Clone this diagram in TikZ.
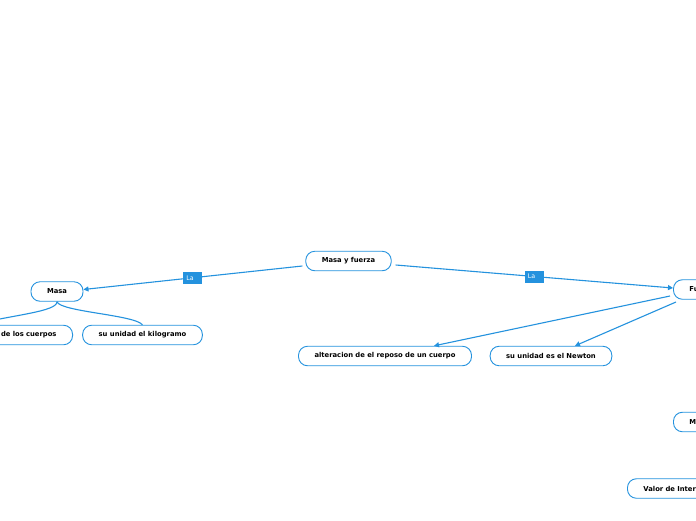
\documentclass[tikz,border=0pt]{standalone}
\usepackage{fontspec}
\setmainfont{DejaVu Sans}
\usetikzlibrary{arrows.meta}
\definecolor{mblue}{RGB}{36,146,222}
\tikzset{
  topic/.style={draw=mblue, line width=0.9pt, fill=white, rounded corners=9pt,
    minimum height=19.5pt, inner xsep=16pt, inner ysep=0pt, font=\fontsize{6.8}{8}\selectfont\bfseries, text=black},
  conn/.style={draw=mblue, line width=1.1pt, -{Triangle[length=5pt,width=5pt]}},
  plain/.style={draw=mblue, line width=1.1pt},
  lab/.style={fill=mblue, text=white, inner xsep=3pt, inner ysep=2pt, minimum width=19pt, minimum height=12pt,
    font=\fontsize{6.3}{7}\selectfont, align=left, text width=13pt}
}
\begin{document}
\begin{tikzpicture}[x=1pt,y=-1pt]
\clip (0,0) rectangle (696,520);
\fill[white] (0,0) rectangle (696,520);
\node[topic] (MF) at (348.5,261) {Masa y fuerza};
\node[topic] (Masa) at (57,291.5) {Masa};
\node[topic, anchor=east, text width=90pt, align=right] (Cuer) at (73,335) {de los cuerpos};
\node[topic] (Kilo) at (142.5,335) {su unidad el kilogramo};
\node[topic, anchor=west, text width=60pt, align=left] (F) at (673,289.5) {Fu};
\node[topic] (Alt) at (385,356) {alteracion de el reposo de un cuerpo};
\node[topic] (New) at (551,356) {su unidad es el Newton};
\node[topic, anchor=west, text width=60pt, align=left] (M) at (673,422) {M};
\node[topic, anchor=west, text width=80pt, align=left] (V) at (627,488.5) {Valor de Inter};
\draw[conn] ([shift={(-3,5)}]MF.west) -- node[lab]{La} ([shift={(0,-2)}]Masa.east);
\draw[conn] ([shift={(4,4)}]MF.east) -- node[lab]{La} ([shift={(0,-1.5)}]F.west);
\draw[conn] ([shift={(-3,6.5)}]F.west) -- ([shift={(49,0)}]Alt.north);
\draw[conn] ([shift={(3,12.5)}]F.west) -- ([shift={(24,0)}]New.north);
\draw[plain] (Masa.south) .. controls +(0,10) and +(40,-10) .. ([shift={(-100,0)}]Cuer.north east);
\draw[plain] (Masa.south) .. controls +(3,10) and +(-8,-10) .. (Kilo.north);
\end{tikzpicture}
\end{document}
